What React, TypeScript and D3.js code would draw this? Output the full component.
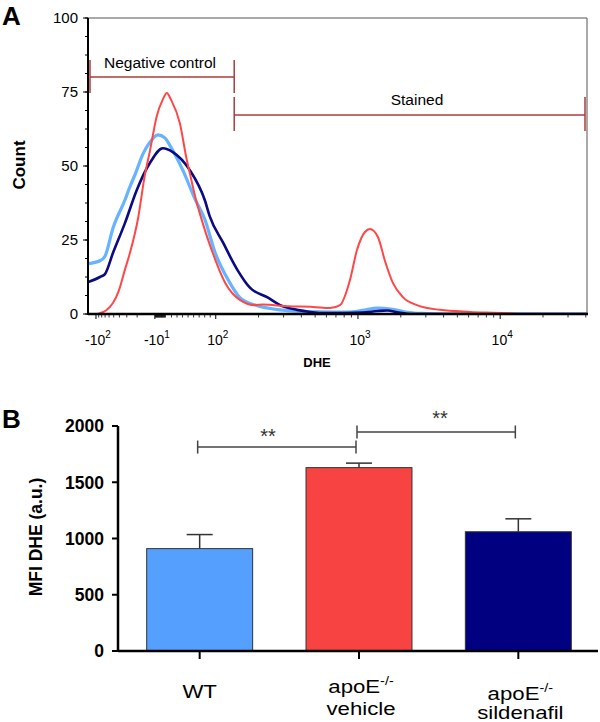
import React from 'react';
import * as d3 from 'd3';

const FONT = '"Liberation Sans", Arial, Helvetica, sans-serif';

// ---------- Panel A data ----------
const countTicks = [0, 25, 50, 75, 100];
const dheTickValues = [-100, -10, 100, 1000, 10000];
const dheTickBase = ['-10', '-10', '10', '10', '10'];
const dheTickExp = ['2', '1', '2', '3', '4'];
const dheMinorValues = [
  -90, -80, -70, -60, -50, -40, -30, -20,
  -9, -8, -7, -6, -5, -4, -3, -2, -1, 0, 1, 2, 3, 4, 5, 6, 7, 8, 9,
  20, 30, 40, 50, 60, 70, 80, 90,
  200, 300, 400, 500, 600, 700, 800, 900,
  2000, 3000, 4000, 5000, 6000, 7000, 8000, 9000,
  20000, 30000, 40000,
];

// histogram traces: [axis position (% of axis width), count]
const redHist: [number, number][] = [
  [1.6, 0], [2.4, 0.3], [3.6, 1.2], [5.0, 3.7], [6.2, 8], [7.4, 15], [8.4, 20.6], [10.0, 32], [11.4, 47],
  [12.4, 55], [13.8, 67], [15.0, 72.5], [15.8, 74.7], [16.6, 72.5], [18.4, 64.5], [19.8, 52],
  [20.4, 47.6], [21.8, 37.5], [22.4, 34], [25.0, 20.6], [27.5, 10.5], [30.5, 4.7],
  [33.5, 3], [35, 3.2], [40, 2.6], [45.1, 2.4], [48.5, 2], [50.5, 3], [52.5, 11.5],
  [53.9, 21.6], [55.5, 27.7], [56.5, 28.7], [58.1, 26], [59.5, 18], [61.1, 10.5],
  [63.1, 5.7], [65.9, 3], [70.5, 1.4], [76.6, 0.7], [83.6, 0.3], [86, 0],
];
const lightBlueHist: [number, number][] = [
  [0, 17], [2.4, 18], [3.4, 19.5], [5.0, 29], [7.4, 38.5], [8.4, 43], [9.4, 47],
  [11.0, 54], [12.4, 58], [14.0, 60.5], [15.4, 59.5], [16.4, 57], [19.0, 48.6],
  [21.4, 39], [23.4, 32], [25.5, 20.6], [28.1, 11.5], [30.5, 5.4], [33.5, 3],
  [38.5, 1.4], [46.5, 0.7], [52, 0.6], [55, 1.2], [58, 2], [61, 1.6], [64, 0.6],
  [67, 0.2], [72, 0], [100, 0],
];
const navyHist: [number, number][] = [
  [0, 10.8], [2.4, 12.5], [3.4, 13.5], [5.0, 20.6], [7.4, 30.7], [9.8, 42],
  [12.4, 51], [15.0, 56], [17.0, 54.7], [20.4, 48.6], [23.4, 38.5], [24.4, 33],
  [27.1, 24], [29.9, 15], [32.5, 8.8], [35.9, 5.7], [38.5, 3], [41.9, 1.4],
  [44.5, 0.7], [48, 0.3], [55, 0.5], [58, 1.0], [60, 1.2], [62, 0.6], [65, 0], [100, 0],
];
const histSeries = [
  { name: 'WT', data: lightBlueHist, color: '#66b3ff', width: 3.2 },
  { name: 'apoE sildenafil', data: navyHist, color: '#0a0a82', width: 2.6 },
  { name: 'apoE vehicle', data: redHist, color: '#ff4747', width: 2 },
];
const gateLabels = ['Negative control', 'Stained'];
const gateSpans: [number, number][] = [[0.4, 29.3], [29.3, 99.6]];

// ---------- Panel B data ----------
const groupNames = ['WT', 'apoE vehicle', 'apoE sildenafil'];
const groupLine1 = ['WT', 'apoE', 'apoE'];
const groupSup = ['', '-/-', '-/-'];
const groupLine2 = ['', 'vehicle', 'sildenafil'];
const mfiMeans = [910, 1630, 1060];
const mfiErrors = [125, 40, 115];
const barColors = ['#55a0ff', '#f84343', '#000080'];
const mfiTicks = [0, 500, 1000, 1500, 2000];
const sigPairs: [number, number][] = [[0, 1], [1, 2]];
const sigLevels = [1813, 1947];
const sigLabels = ['**', '**'];

// position on DHE display axis (percent of width)
function dheToPos(v: number): number {
  if (v >= 100) return 25.6 + (Math.log10(v) - 2) * 28.5;
  if (v <= -10) return 13.4 - (Math.log10(-v) - 1) * 11.8;
  return 13.4 + ((v + 10) / 110) * 12.2;
}

export default function App() {
  // Panel A geometry
  const aL = 88, aR = 587, aT = 18, aB = 314;
  const xA = d3.scaleLinear().domain([0, 100]).range([aL, aR]);
  const yA = d3.scaleLinear().domain([0, 100]).range([aB, aT]);
  const line = d3
    .line<[number, number]>()
    .x((d) => xA(d[0]))
    .y((d) => yA(d[1]))
    .curve(d3.curveMonotoneX);
  const yMinor = d3.range(0, 100.01, 6.25);

  // Panel B geometry
  const bL = 118, bR = 598, bT = 426, bB = 651;
  const xB = d3.scaleBand<string>().domain(groupNames).range([120, 598]).paddingInner(0.335).paddingOuter(0.1675);
  const yB = d3.scaleLinear().domain([0, 2000]).range([bB, bT]);
  const cx = (i: number) => (xB(groupNames[i]) as number) + xB.bandwidth() / 2;

  const gateColor = '#a83c3c';
  const line1Base = [698, 693, 700];
  const line2Base = [0, 715, 719];

  return (
    <svg
      width={600}
      height={722}
      style={{ position: 'absolute', left: 0, top: 0, background: '#fff' }}
      fontFamily={FONT}
    >
      <rect x={0} y={0} width={600} height={722} fill="#fff" />
      {/* ===== Panel A ===== */}
      <text x={2} y={25} fontSize={26} fontWeight="bold">A</text>
      <defs>
        <clipPath id="clipA">
          <rect x={aL} y={aT} width={aR - aL} height={aB - aT} />
        </clipPath>
      </defs>
      {/* frame */}
      <line x1={aL} x2={aR} y1={aT} y2={aT} stroke="#555" strokeWidth={1} />
      <line x1={aR} x2={aR} y1={aT} y2={aB} stroke="#555" strokeWidth={1} />
      {/* curves */}
      <g clipPath="url(#clipA)">
        {histSeries.map((s) => (
          <path key={s.name} d={line(s.data) || ''} fill="none" stroke={s.color} strokeWidth={s.width} strokeLinejoin="round" />
        ))}
      </g>
      {/* axes */}
      <line x1={aL} x2={aL} y1={aT} y2={aB + 1} stroke="#000" strokeWidth={2} />
      <line x1={aL} x2={aR + 1} y1={aB} y2={aB} stroke="#000" strokeWidth={2.5} />
      {yMinor.map((v) => (
        <line key={'ym' + v} x1={aL - 3} x2={aL} y1={yA(v)} y2={yA(v)} stroke="#000" strokeWidth={1} />
      ))}
      {countTicks.map((v) => (
        <g key={'yt' + v}>
          <line x1={aL - 5} x2={aL} y1={yA(v)} y2={yA(v)} stroke="#000" strokeWidth={1} />
          <text x={78} y={yA(v)} dy="0.35em" textAnchor="end" fontSize={15}>{v}</text>
        </g>
      ))}
      {dheMinorValues.map((v, i) => (
        <line key={'xm' + i} x1={xA(dheToPos(v))} x2={xA(dheToPos(v))} y1={aB} y2={aB + 3.5} stroke="#000" strokeWidth={0.8} />
      ))}
      {dheTickValues.map((v, i) => (
        <g key={'xt' + v}>
          <line x1={xA(dheToPos(v))} x2={xA(dheToPos(v))} y1={aB} y2={aB + 5} stroke="#000" strokeWidth={1} />
          <text x={xA(dheToPos(v)) + 2} y={345} textAnchor="middle" fontSize={14}>
            {dheTickBase[i]}
            <tspan fontSize={10} dy={-7}>{dheTickExp[i]}</tspan>
          </text>
        </g>
      ))}
      <text x={317} y={367} textAnchor="middle" fontSize={13} fontWeight="bold">DHE</text>
      <text transform="translate(25,165) rotate(-90)" textAnchor="middle" fontSize={17} fontWeight="bold">Count</text>
      {/* gates */}
      {gateSpans.map((g, i) => {
        const yLine = i === 0 ? 77 : 115;
        const capT = i === 0 ? 60 : 97;
        const capB = i === 0 ? 93 : 131;
        const x1 = xA(g[0]);
        const x2 = xA(g[1]);
        return (
          <g key={'gate' + i}>
            <line x1={x1} x2={x2} y1={yLine} y2={yLine} stroke={gateColor} strokeWidth={1.5} />
            <line x1={x1} x2={x1} y1={capT} y2={capB} stroke={gateColor} strokeWidth={1.5} />
            <line x1={x2} x2={x2} y1={capT} y2={capB} stroke={gateColor} strokeWidth={1.5} />
            <text x={i === 0 ? 160 : 417} y={i === 0 ? 68 : 105} textAnchor="middle" fontSize={15.5}>
              {gateLabels[i]}
            </text>
          </g>
        );
      })}

      {/* ===== Panel B ===== */}
      <text x={2} y={428} fontSize={26} fontWeight="bold">B</text>
      {groupNames.map((g, i) => {
        const x0 = xB(g) as number;
        const c = cx(i);
        return (
          <g key={'bar' + g}>
            <line x1={c} x2={c} y1={yB(mfiMeans[i])} y2={yB(mfiMeans[i] + mfiErrors[i])} stroke="#333" strokeWidth={1.5} />
            <line x1={c - 13} x2={c + 13} y1={yB(mfiMeans[i] + mfiErrors[i])} y2={yB(mfiMeans[i] + mfiErrors[i])} stroke="#333" strokeWidth={1.5} />
            <rect x={x0} y={yB(mfiMeans[i])} width={xB.bandwidth()} height={yB(0) - yB(mfiMeans[i])} fill={barColors[i]} stroke="#333" strokeWidth={1} />
          </g>
        );
      })}
      <line x1={bL} x2={bL} y1={bT} y2={bB + 1} stroke="#000" strokeWidth={2.5} />
      <line x1={bL} x2={bR} y1={bB} y2={bB} stroke="#000" strokeWidth={2.5} />
      {mfiTicks.map((v) => (
        <g key={'bt' + v}>
          <line x1={bL - 6} x2={bL} y1={yB(v)} y2={yB(v)} stroke="#000" strokeWidth={2} />
          <text x={104} y={yB(v)} dy="0.36em" textAnchor="end" fontSize={17.5} fontWeight="bold">{v}</text>
        </g>
      ))}
      {groupNames.map((g, i) => (
        <g key={'lab' + g}>
          <line x1={cx(i)} x2={cx(i)} y1={bB} y2={bB + 8} stroke="#000" strokeWidth={2} />
          <g transform={`translate(${cx(i) + (groupSup[i] ? 2 : 0)},0) scale(1.2,1)`}>
            <text x={0} y={line1Base[i]} textAnchor="middle" fontSize={18.5}>
              {groupLine1[i]}
              {groupSup[i] ? <tspan fontSize={12} dy={-8}>{groupSup[i]}</tspan> : null}
            </text>
            {groupLine2[i] ? (
              <text x={0} y={line2Base[i]} textAnchor="middle" fontSize={18.5}>{groupLine2[i]}</text>
            ) : null}
          </g>
        </g>
      ))}
      <text transform="translate(42,537) rotate(-90)" textAnchor="middle" fontSize={17.5} fontWeight="bold">MFI DHE (a.u.)</text>
      {/* significance brackets */}
      {sigPairs.map((p, i) => {
        const x1 = cx(p[0]) - 2;
        const x2 = cx(p[1]) - 3;
        const y = yB(sigLevels[i]);
        return (
          <g key={'sig' + i}>
            <line x1={x1} x2={x2} y1={y} y2={y} stroke="#444" strokeWidth={1.5} />
            <line x1={x1} x2={x1} y1={y - 6.5} y2={y + 6.5} stroke="#444" strokeWidth={1.5} />
            <line x1={x2} x2={x2} y1={y - 6.5} y2={y + 6.5} stroke="#444" strokeWidth={1.5} />
            <text x={i === 0 ? 268 : 440} y={y + (i === 0 ? 2 : -1)} dy={-6} textAnchor="middle" fontSize={20} fill="#333">
              {sigLabels[i]}
            </text>
          </g>
        );
      })}
    </svg>
  );
}
